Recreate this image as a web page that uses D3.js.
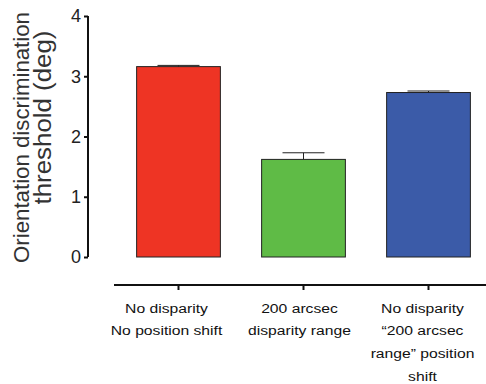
<!DOCTYPE html>
<html><head><meta charset="utf-8">
<script src="https://cdn.jsdelivr.net/npm/d3@7"></script>
<style>body{margin:0;background:#fff}svg{display:block}</style>
</head><body>
<script>
const categories = ["c1","c2","c3"];
const labels = [
  ["No disparity","No position shift"],
  ["200 arcsec","disparity range"],
  ["No disparity","\u201C200 arcsec","range\u201D position","shift"]
];
const values = [3.16, 1.62, 2.73];
const errors = [0.02, 0.11, 0.025];
const colors = ["#EE3424","#5FBB46","#3B5BA8"];
const yTicks = [0,1,2,3,4];
const yTitle = ["Orientation discrimination","threshold (deg)"];

const W=486,H=384;
const svg=d3.select("body").append("svg").attr("width",W).attr("height",H);
const font="Liberation Sans, Arial, Helvetica, sans-serif";

const y=d3.scaleLinear().domain([0,4]).range([257,16]);
const x=d3.scaleBand().domain(categories).range([116,491]).paddingInner(0.33).paddingOuter(0.165);

// Y axis
const ya=svg.append("g").attr("transform","translate(88,0)")
  .call(d3.axisLeft(y).tickValues(yTicks).tickSize(4).tickPadding(3).tickFormat(d3.format("d")));
ya.select(".domain").attr("stroke","#111").attr("stroke-width",2).attr("d","M0,"+y(0)+"V"+y(4));
ya.selectAll(".tick line").attr("stroke","#111").attr("stroke-width",2);
ya.selectAll(".tick text").attr("font-family",font).attr("font-size",18).attr("fill","#222");

// X axis
const xa=svg.append("g").attr("transform","translate(0,285)")
  .call(d3.axisBottom(x).tickSize(5).tickFormat(""));
xa.select(".domain").attr("stroke","#111").attr("stroke-width",2).attr("d","M114,0H486");
xa.selectAll(".tick line").attr("stroke","#111").attr("stroke-width",2);

// bars
svg.selectAll("rect.bar").data(values).enter().append("rect")
  .attr("x",(d,i)=>x(categories[i])).attr("width",x.bandwidth())
  .attr("y",d=>y(d)).attr("height",d=>y(0)-y(d))
  .attr("fill",(d,i)=>colors[i]).attr("stroke","#222").attr("stroke-width",1);

// error bars
const capW=42;
values.forEach((v,i)=>{
  const cx=x(categories[i])+x.bandwidth()/2;
  svg.append("line").attr("x1",cx).attr("x2",cx).attr("y1",y(v)).attr("y2",y(v+errors[i])).attr("stroke","#222").attr("stroke-width",1);
  svg.append("line").attr("x1",cx-capW/2).attr("x2",cx+capW/2).attr("y1",y(v+errors[i])).attr("y2",y(v+errors[i])).attr("stroke","#222").attr("stroke-width",1);
});

// x labels (slightly wide type, as in the original)
const labelShift=[-12,-4,-6];
labels.forEach((ls,i)=>{
  const cx=x(categories[i])+x.bandwidth()/2+labelShift[i];
  ls.forEach((t,j)=>{
    svg.append("text").attr("transform","translate("+cx+","+(312.5+j*22.7)+") scale(1.18,1)")
      .attr("text-anchor","middle")
      .attr("font-family",font).attr("font-size",13.3).attr("fill","#111").text(t);
  });
});

// y title
const titleLayout=[{cy:137.5,x:29,len:251,fs:22},{cy:117.5,x:51,len:174,fs:23.5}];
yTitle.forEach((t,k)=>{
  const L=titleLayout[k];
  svg.append("text").attr("transform","translate("+L.x+","+L.cy+") rotate(-90)")
    .attr("text-anchor","middle").attr("x",0).attr("y",0)
    .attr("textLength",L.len).attr("lengthAdjust","spacingAndGlyphs")
    .attr("font-family",font).attr("font-size",L.fs).attr("fill","#333").text(t);
});
</script>
</body></html>
